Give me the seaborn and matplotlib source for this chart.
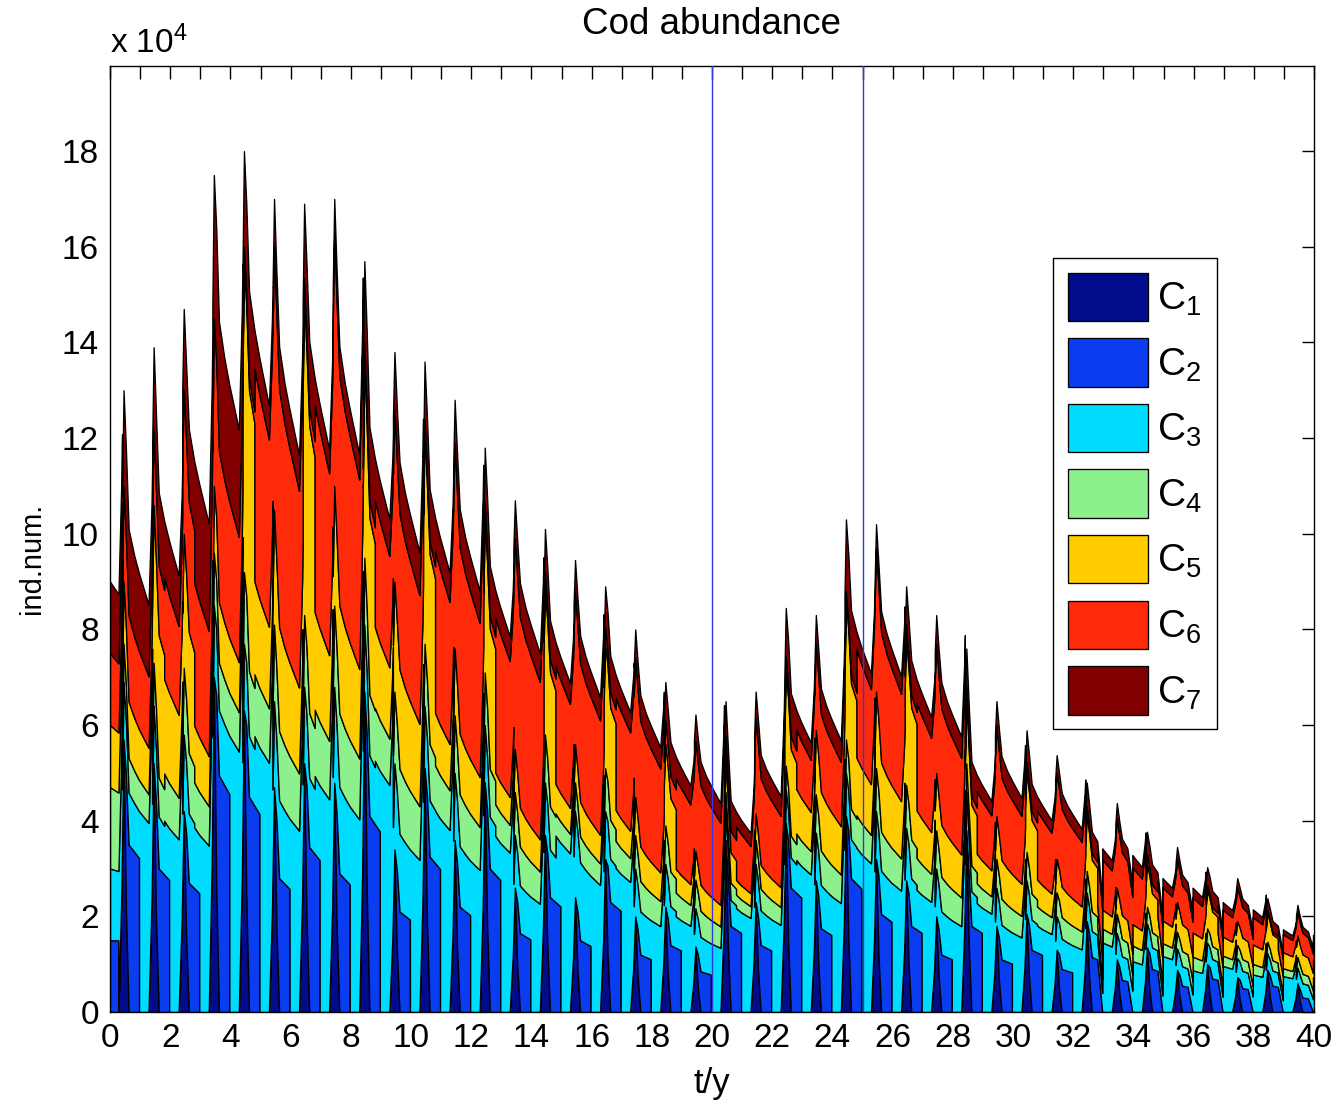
import numpy as np
import matplotlib
matplotlib.use("Agg")
import matplotlib.pyplot as plt
import seaborn as sns

sns.set_theme(style="white")
plt.rcParams["font.family"] = ["Liberation Sans", "DejaVu Sans"]
plt.rcParams["mathtext.fontset"] = "custom"
plt.rcParams["mathtext.rm"] = "Liberation Sans"
plt.rcParams["mathtext.it"] = "Liberation Sans:italic"
plt.rcParams["text.color"] = "black"
plt.rcParams["axes.labelcolor"] = "black"

# ---- data (x 10^4 individuals) -------------------------------------------
stage_labels = [r"C$_1$", r"C$_2$", r"C$_3$", r"C$_4$", r"C$_5$", r"C$_6$", r"C$_7$"]
stage_colors = ["#000C8C", "#0A3CF0", "#00DCFF", "#8CF08C", "#FFCC00", "#FF2A0A", "#800000"]

# C1 peak at spawning, one value per year 0..39
c1_peak = [5.7, 5.2, 4.2, 7.0, 6.3, 4.7, 5.2, 4.8, 6.7, 3.4,
           5.1, 3.6, 4.8, 2.6, 3.7, 2.4, 3.2, 2.0, 2.2, 1.37,
           3.6, 2.3, 3.95, 2.75, 4.1, 3.2, 2.75, 2.0, 3.8, 1.8,
           2.05, 1.3, 1.9, 1.1, 1.35, 0.88, 1.0, 0.73, 0.88, 0.6]
# C2 level after hatching
c2_level = [3.5, 3.0, 2.7, 4.95, 4.5, 2.8, 3.45, 2.9, 4.1, 2.1,
            3.25, 2.2, 3.0, 1.65, 2.4, 1.5, 2.3, 1.2, 1.4, 0.85,
            1.8, 1.4, 2.6, 1.75, 2.8, 2.05, 1.8, 1.2, 1.8, 1.1,
            1.3, 0.9, 1.15, 0.67, 0.9, 0.55, 0.7, 0.5, 0.55, 0.3]
# older stages at the spawning peak of each year
c3_level = [1.2, 1.2, 1.6, 1.5, 1.4, 1.8, 1.6, 2.0, 1.4, 1.8,
            1.3, 1.4, 1.2, 1.1, 1.1, 1.8, 1.0, 1.0, 0.9, 0.8,
            0.6, 0.8, 0.7, 1.0, 0.9, 1.0, 1.1, 1.0, 0.8, 0.8,
            0.7, 0.7, 0.6, 0.55, 0.5, 0.45, 0.45, 0.4, 0.35, 0.33]
c4_level = [0.8, 0.9, 1.4, 1.1, 1.5, 1.6, 1.5, 1.7, 1.4, 1.5,
            1.3, 1.2, 1.1, 0.9, 1.0, 0.6, 0.9, 0.7, 0.8, 0.6,
            0.4, 0.5, 0.5, 0.8, 0.7, 0.9, 0.9, 0.8, 0.6, 0.6,
            0.6, 0.5, 0.45, 0.4, 0.35, 0.35, 0.3, 0.27, 0.24, 0.22]
c5_level = [1.3, 3.3, 2.8, 1.4, 6.5, 2.4, 6.65, 2.5, 4.1, 2.3,
            4.4, 1.4, 3.25, 0.9, 3.1, 0.8, 2.6, 0.8, 1.7, 0.6,
            0.7, 0.55, 2.0, 1.35, 2.9, 1.6, 3.05, 1.2, 1.4, 0.9,
            1.7, 0.7, 1.2, 0.55, 0.9, 0.62, 0.8, 0.5, 0.6, 0.45]
c6_level = [2.0, 1.6, 3.0, 3.5, 0.3, 5.5, 0.4, 5.3, 0.4, 3.6,
            0.3, 4.3, 0.3, 4.4, 0.3, 3.2, 0.35, 2.9, 0.5, 2.3,
            0.5, 2.0, 0.3, 1.8, 0.2, 3.0, 0.3, 2.7, 0.2, 1.9,
            0.2, 1.8, 0.15, 1.45, 0.2, 0.9, 0.1, 0.7, 0.06, 0.5]
c7_level = [2.0, 1.7, 1.7, 3.0, 2.0, 1.0, 1.55, 0.7, 1.7, 1.2,
            1.2, 0.9, 1.15, 0.8, 0.9, 0.65, 0.85, 0.6, 0.8, 0.55,
            0.7, 0.55, 1.0, 0.6, 1.5, 0.5, 0.8, 0.6, 0.8, 0.5,
            0.64, 0.37, 0.5, 0.32, 0.47, 0.25, 0.38, 0.2, 0.25, 0.14]
# state at t = 0
init_c2 = 1.5
init_upper = [1.5, 1.7, 1.3, 1.5, 1.5]

marked_years = [20, 25]

# ---- seasonal stage dynamics --------------------------------------------
n_years = len(c1_peak)
upper = np.array([c3_level, c4_level, c5_level, c6_level, c7_level]).T

# composition after the mid-season moult of each cycle
post = np.empty_like(upper)
for k in range(n_years):
    if k + 1 < n_years and c6_level[k + 1] > c5_level[k + 1]:
        post[k] = upper[k + 1] * 0.85 * upper[k].sum() / upper[k + 1].sum()
    else:
        post[k] = upper[k] * 0.85

c1_shape = ([0.28, 0.38, 0.45, 0.53, 0.62], [0.0, 0.45, 1.0, 0.38, 0.0])
c2_shape = ([0.45, 0.53, 0.62, 0.965], [0.0, 0.8, 1.0, 0.92])
early_decay = ([0.40, 0.45, 0.53, 0.80], [1.0, 1.0, 0.93, 0.85])


def stage_values(t):
    k = int(np.floor(t + 1e-9))
    f = t - k
    if k < n_years:
        c1 = c1_peak[k] * np.interp(f, *c1_shape, left=0, right=0)
        c2 = c2_level[k] * np.interp(f, *c2_shape, left=0, right=0)
    else:
        c1 = c2 = 0.0
    if t <= 0.28 + 1e-9:
        c2 = init_c2
    if t < 0.40 - 1e-9:
        rest = np.array(init_upper) * (1 - 0.05 * t / 0.40)
        if t > 0.28 + 1e-6:
            rest[0] += init_c2
    else:
        kc = min(int(np.floor(t - 0.40 + 1e-9)), n_years - 1)
        p = t - kc
        if p < 0.80 - 1e-9:
            rest = upper[kc] * np.interp(p, *early_decay)
        else:
            rest = post[kc] * (1 - 0.15 * (p - 0.80) / 0.60)
            if p >= 0.966 - 1e-9:
                rest[0] += 0.92 * c2_level[kc] * (1 - 0.07 * (p - 0.966) / 0.434)
    return [c1, c2, *rest]


phases = [0.0, 0.28, 0.2801, 0.38, 0.3999, 0.40, 0.45, 0.53, 0.62,
          0.7999, 0.80, 0.965, 0.966]
t = np.array([k + ph for k in range(n_years) for ph in phases] + [float(n_years)])
series = np.array([stage_values(ti) for ti in t]).T

# ---- figure --------------------------------------------------------------
W, H = 1338, 1103
fig = plt.figure(figsize=(W / 100, H / 100), dpi=100)
ax = fig.add_axes([110 / W, 91 / H, 1204 / W, 946 / H])

palette = sns.color_palette(stage_colors)
polys = ax.stackplot(t, series, colors=palette, labels=stage_labels,
                     edgecolor="black", linewidth=0.95)

for yr in marked_years:
    ax.axvline(yr, color="#3535E8", lw=1.0, zorder=5)

ax.set_xlim(0, 40)
ax.set_ylim(0, 19.78)
ax.set_xticks(range(0, 41))
ax.set_xticklabels([str(i) if i % 2 == 0 else "" for i in range(0, 41)])
ax.set_yticks(range(0, 19, 2))
ax.tick_params(direction="in", top=True, right=True, length=9, width=1,
               labelsize=24, pad=8, colors="black")
for sp in ax.spines.values():
    sp.set_color("black")
    sp.set_linewidth(1.0)
ax.set_facecolor("white")
ax.grid(False)

ax.text(0.0, 1.006, r"x 10$^4$", transform=ax.transAxes, fontsize=24,
        ha="left", va="bottom")
fig.text(712 / W, 1 - 25 / H, "Cod abundance", fontsize=26.5, ha="center", va="center")
fig.text(712 / W, 1 - 1083 / H, "t/y", fontsize=25, ha="center", va="center")
fig.text(32 / W, 1 - 558 / H, "ind.num.", fontsize=21, ha="center", va="center",
         rotation=90)

leg = ax.legend(polys, stage_labels, loc="upper left",
                bbox_to_anchor=((1053 - 110) / 1204, (1012 - 258) / 946),
                borderaxespad=0, fontsize=28, frameon=True, fancybox=False,
                framealpha=1, edgecolor="black", handlelength=2.05,
                handleheight=1.54, labelspacing=0.44, handletextpad=0.25,
                borderpad=0.38)
leg.get_frame().set_linewidth(1.0)
for txt in leg.get_texts():
    txt.set_color("black")

fig.savefig("out.png", dpi=100)
